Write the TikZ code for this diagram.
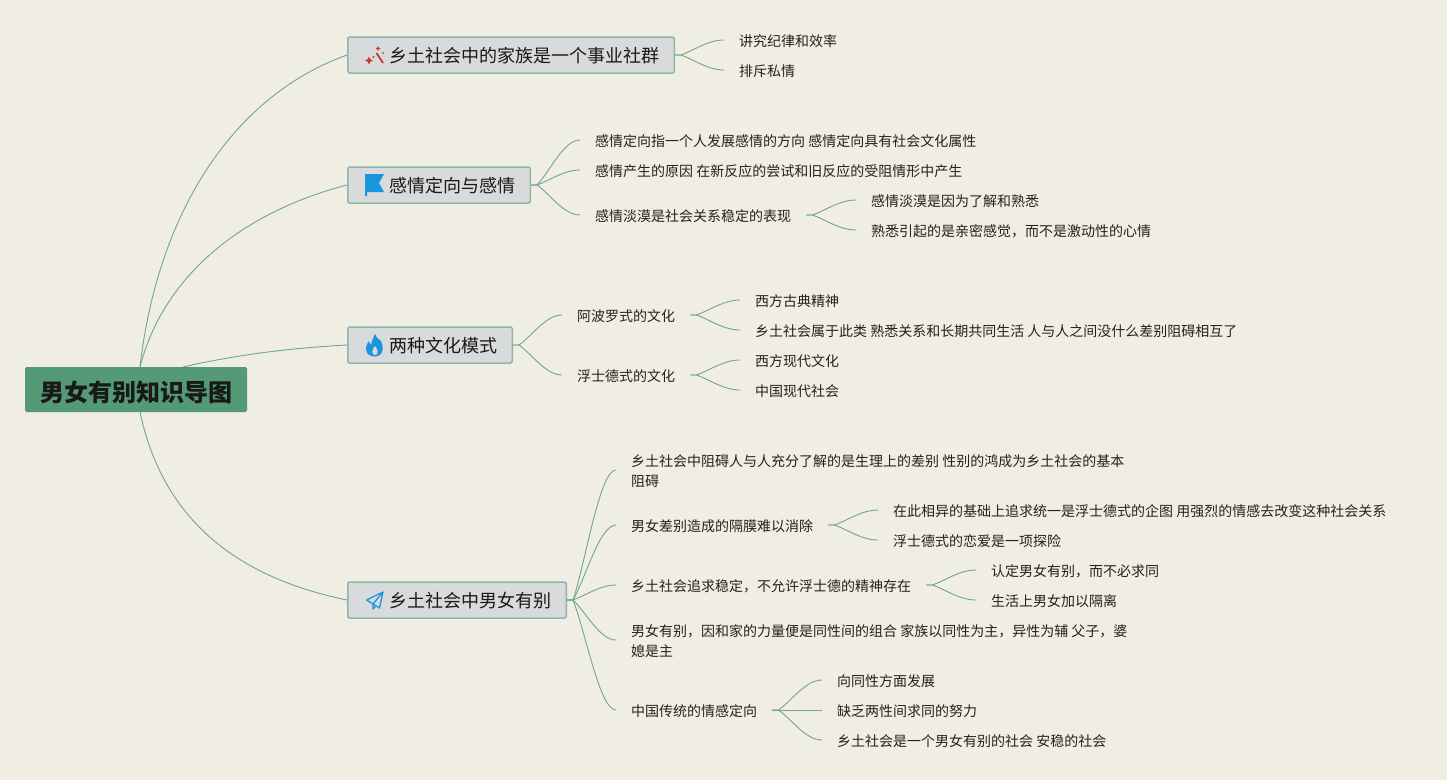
\documentclass[tikz,border=0pt]{standalone}
\usepackage{fontspec}
\setmainfont{Noto Sans CJK SC}
\usetikzlibrary{calc}
\definecolor{bgc}{HTML}{F0EDE3}
\definecolor{linkc}{HTML}{72A592}
\definecolor{topicfill}{HTML}{D8DADC}
\definecolor{topicline}{HTML}{8FB5AA}
\definecolor{rootfill}{HTML}{559A76}
\definecolor{leaftext}{HTML}{222222}
\definecolor{wandc}{HTML}{C8392B}
\definecolor{iconblue}{HTML}{1A96DE}
\tikzset{
  rootbox/.style={fill=rootfill,rounded corners=2pt,minimum width=222pt,minimum height=45pt,inner sep=0pt,text=black!90,font=\fontsize{24}{24}\selectfont\bfseries,text height=28pt,text depth=4pt},
  topicbox/.style={anchor=west,draw=topicline,line width=1.5pt,fill=topicfill,rounded corners=2pt,minimum height=36pt,inner ysep=0pt,inner xsep=14.5pt,text=black!90,font=\fontsize{18}{18}\selectfont,text height=18pt,text depth=3pt},
  leaf/.style={anchor=west,inner xsep=15pt,inner ysep=0pt,text=leaftext,font=\fontsize{14}{20}\selectfont,align=left,text height=14pt,text depth=2pt},
  leaftwo/.style={leaf,text height=34pt,text depth=2pt},
  link/.style={draw=linkc,line width=0.9pt},
}
\newcommand{\conn}[2]{\draw[link] let \p1=(#1.east),\p2=(#2.west) in (\p1) -- ({\x1+6pt},\y1) .. controls ({\x1+6pt+0.3*(\x2-\x1-6pt)},{\y1+0.3*(\y2-\y1)}) and ({\x1+6pt+0.62*(\x2-\x1-6pt)},\y2) .. (\p2);}
\newcommand{\iconsp}{\hspace*{27.5pt}}
\begin{document}
\begin{tikzpicture}[x=1pt,y=-1pt]
\useasboundingbox (0,0) rectangle (1447,780);
\fill[bgc] (0,0) rectangle (1447,780);
% root
\node[rootbox] (root) at (136,389.5) {男女有别知识导图};
\coordinate (rA) at (140,367);
\coordinate (rB) at (183,367);
\coordinate (rC) at (140,412);
% topics
\node[topicbox] (t1) at (347,55) {\iconsp 乡土社会中的家族是一个事业社群};
\node[topicbox] (t2) at (347,185) {\iconsp 感情定向与感情};
\node[topicbox] (t3) at (347,345) {\iconsp 两种文化模式};
\node[topicbox] (t4) at (347,600) {\iconsp 乡土社会中男女有别};
% root links
\draw[link] (rA) .. controls (158,210) and (235,95) .. (t1.west);
\draw[link] (rA) .. controls (165,270) and (250,210) .. (t2.west);
\draw[link] (rB) .. controls (235,355) and (290,348) .. (t3.west);
\draw[link] (rC) .. controls (165,530) and (250,580) .. (t4.west);
% leaves t1
\node[leaf] (a1) at (724,40) {讲究纪律和效率};
\node[leaf] (a2) at (724,70) {排斥私情};
\conn{t1}{a1}\conn{t1}{a2}
% leaves t2
\node[leaf] (b1) at (580,140) {感情定向指一个人发展感情的方向 感情定向具有社会文化属性};
\node[leaf] (b2) at (580,170) {感情产生的原因 在新反应的尝试和旧反应的受阻情形中产生};
\node[leaf] (b3) at (580,215) {感情淡漠是社会关系稳定的表现};
\node[leaf] (b31) at (856,200) {感情淡漠是因为了解和熟悉};
\node[leaf] (b32) at (856,230) {熟悉引起的是亲密感觉，而不是激动性的心情};
\conn{t2}{b1}\conn{t2}{b2}\conn{t2}{b3}\conn{b3}{b31}\conn{b3}{b32}
% leaves t3
\node[leaf] (c1) at (562,315) {阿波罗式的文化};
\node[leaf] (c2) at (562,375) {浮士德式的文化};
\node[leaf] (c11) at (740,300) {西方古典精神};
\node[leaf] (c12) at (740,330) {乡土社会属于此类 熟悉关系和长期共同生活 人与人之间没什么差别阻碍相互了};
\node[leaf] (c21) at (740,360) {西方现代文化};
\node[leaf] (c22) at (740,390) {中国现代社会};
\conn{t3}{c1}\conn{t3}{c2}\conn{c1}{c11}\conn{c1}{c12}\conn{c2}{c21}\conn{c2}{c22}
% leaves t4
\node[leaftwo] (d1) at (616,470) {乡土社会中阻碍人与人充分了解的是生理上的差别 性别的鸿成为乡土社会的基本\\阻碍};
\node[leaf] (d2) at (616,525) {男女差别造成的隔膜难以消除};
\node[leaf] (d21) at (878,510) {在此相异的基础上追求统一是浮士德式的企图 用强烈的情感去改变这种社会关系};
\node[leaf] (d22) at (878,540) {浮士德式的恋爱是一项探险};
\node[leaf] (d3) at (616,585) {乡土社会追求稳定，不允许浮士德的精神存在};
\node[leaf] (d31) at (976,570) {认定男女有别，而不必求同};
\node[leaf] (d32) at (976,600) {生活上男女加以隔离};
\node[leaftwo] (d4) at (616,640) {男女有别，因和家的力量便是同性间的组合 家族以同性为主，异性为辅 父子，婆\\媳是主};
\node[leaf] (d5) at (616,710) {中国传统的情感定向};
\node[leaf] (d51) at (822,680) {向同性方面发展};
\node[leaf] (d52) at (822,710) {缺乏两性间求同的努力};
\node[leaf] (d53) at (822,740) {乡土社会是一个男女有别的社会 安稳的社会};
\conn{t4}{d1}\conn{t4}{d2}\conn{t4}{d3}\conn{t4}{d4}\conn{t4}{d5}
\conn{d2}{d21}\conn{d2}{d22}\conn{d3}{d31}\conn{d3}{d32}
\conn{d5}{d51}\conn{d5}{d52}\conn{d5}{d53}
% icons
\draw[wandc,line width=1.8pt] (376.5,53) -- (383,63);
\fill[wandc] (378,46) -- (378.8,47.7) -- (380.5,48.5) -- (378.8,49.3) -- (378,51) -- (377.2,49.3) -- (375.5,48.5) -- (377.2,47.7) -- cycle;
\fill[wandc] (369,56.5) -- (370.3,59.2) -- (373,60.5) -- (370.3,61.8) -- (369,64.5) -- (367.7,61.8) -- (365,60.5) -- (367.7,59.2) -- cycle;
\fill[wandc] (383,53) circle (1);
\fill[wandc] (373.5,57) circle (1.1);
\fill[iconblue] (365,174) -- (384,174) -- (379,183) -- (384,192) -- (367,192) -- (367,196) -- (365,196) -- cycle;
\fill[iconblue] (375,334) .. controls (377,339) and (379,339) .. (380,340)
  .. controls (384,345) and (384.5,356) .. (375,356.5)
  .. controls (365,356.5) and (364,347) .. (369,341)
  .. controls (369.5,343) and (370,344) .. (371,345)
  .. controls (372,341) and (373,338) .. (375,334) -- cycle;
\fill[topicfill] (375,346) .. controls (378,349) and (379,355) .. (375,355) .. controls (371,355) and (372,349) .. (375,346) -- cycle;
\draw[iconblue,line width=1.3pt,line join=round] (366.5,600) -- (383,592) -- (379.5,608) -- (373,604) -- (383,592) (373,604) -- (366.5,600) (373,604) -- (373,609) -- (376,606);
\end{tikzpicture}
\end{document}
